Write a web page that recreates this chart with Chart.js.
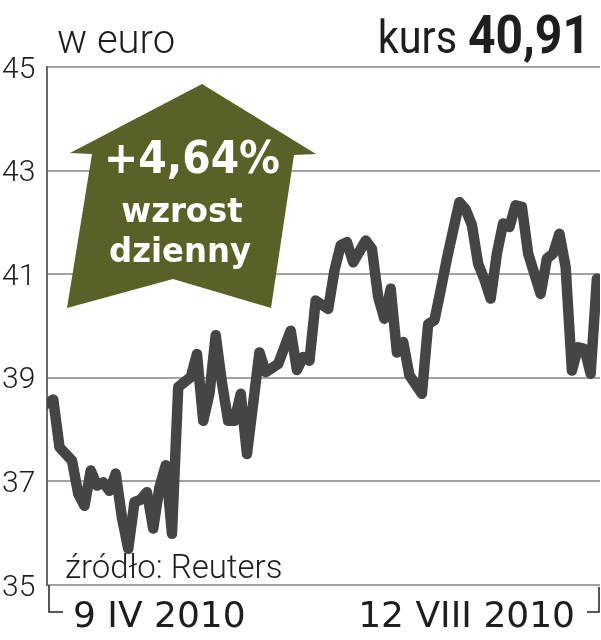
<!DOCTYPE html>
<html>
<head>
<meta charset="utf-8">
<script src="https://cdn.jsdelivr.net/npm/chart.js@4/dist/chart.umd.min.js"></script>
<style>
  html, body { margin: 0; padding: 0; background: #fff; }
  #wrap { width: 601px; height: 640px; }
</style>
</head>
<body>
<div id="wrap"><canvas id="chart-kurs" width="601" height="640"></canvas></div>
<script>
// sesje od 9 IV do 12 VIII 2010 (numer sesji) i kurs zamkniecia w euro
const sessions = [0, 1, 2, 4, 5, 6, 7, 8, 9, 10, 11, 12, 13, 14, 15, 16, 17, 18, 19, 20,
  21, 22, 23, 24, 25, 26, 27, 28, 29, 30, 31, 32, 34, 35, 37, 39, 40, 41, 42, 43,
  45, 46, 47, 48, 49, 51, 52, 53, 54, 55, 56, 57, 58, 60, 61, 62, 63, 64, 66, 67,
  68, 69, 70, 71, 72, 73, 74, 75, 76, 77, 79, 80, 81, 82, 83, 84, 85, 86, 87, 88];
const prices = [38.50, 38.58, 37.66, 37.40, 36.76, 36.53, 37.21, 36.92, 36.98, 36.82,
  37.15, 36.30, 35.70, 36.60, 36.65, 36.79, 36.09, 36.89, 37.31, 35.99,
  38.82, 38.92, 39.01, 39.46, 38.17, 38.70, 39.82, 38.90, 38.17, 38.17,
  38.69, 37.53, 39.49, 39.11, 39.27, 39.91, 39.15, 39.40, 39.33, 40.49,
  40.33, 41.07, 41.56, 41.62, 41.23, 41.65, 41.49, 40.56, 40.14, 40.72,
  39.49, 39.69, 39.05, 38.69, 40.04, 40.11, 40.69, 41.30, 42.39, 42.25,
  41.95, 41.20, 40.90, 40.53, 41.40, 41.98, 41.91, 42.33, 42.30, 41.40,
  40.62, 41.30, 41.40, 41.78, 41.14, 39.14, 39.59, 39.56, 39.08, 40.91];
const yTicks = [35, 37, 39, 41, 43, 45];
const dateLabels = ["9 IV 2010", "12 VIII 2010"];
const unitLabel = "w euro";
const lastPrice = "40,91";
const dailyChange = ["+4,64%", "wzrost", "dzienny"];
const sourceLabel = "źródło: Reuters";

const LINE_COLOR  = "#454545";
const GRID_COLOR  = "#a3a3a3";
const AXIS_COLOR  = "#6a6a6a";
const TEXT_COLOR  = "#1e1e1e";
const ARROW_COLOR = "#5a6126";

function scaledText(ctx, text, x, y, font, sx, align) {
  ctx.save();
  ctx.font = font;
  ctx.textBaseline = "alphabetic";
  ctx.textAlign = "left";
  const w = ctx.measureText(text).width * sx;
  const left = align === "right" ? x - w : align === "center" ? x - w / 2 : x;
  ctx.translate(left, y);
  ctx.scale(sx, 1);
  ctx.fillText(text, 0, 0);
  ctx.restore();
}

const decorPlugin = {
  id: "decor",
  beforeDatasetsDraw(chart) {
    const { ctx } = chart;
    // strzalka "wzrost dzienny"
    ctx.save();
    ctx.fillStyle = ARROW_COLOR;
    ctx.beginPath();
    ctx.moveTo(70, 153);
    ctx.lineTo(202, 84);
    ctx.lineTo(316, 154);
    ctx.lineTo(294, 155);
    ctx.lineTo(271, 308);
    ctx.lineTo(173, 279);
    ctx.lineTo(67, 308);
    ctx.lineTo(92, 154);
    ctx.closePath();
    ctx.fill();
    ctx.fillStyle = "#ffffff";
    ctx.textBaseline = "alphabetic";
    scaledText(ctx, dailyChange[0], 192, 173, "bold 44px 'DejaVu Sans'", 0.93, "center");
    scaledText(ctx, dailyChange[1], 182, 222, "bold 34px 'DejaVu Sans'", 0.95, "center");
    scaledText(ctx, dailyChange[2], 180, 262, "bold 34px 'DejaVu Sans'", 0.95, "center");
    ctx.restore();
  },
  afterDraw(chart) {
    const { ctx, scales: { x, y } } = chart;
    ctx.save();
    ctx.fillStyle = TEXT_COLOR;
    scaledText(ctx, unitLabel, 57, 53, "300 40px Roboto", 1.0, "left");
    scaledText(ctx, lastPrice, 590, 53, "bold 54px Roboto", 0.89, "right");
    scaledText(ctx, "kurs", 457, 53, "400 46px Roboto", 0.9, "right");
    scaledText(ctx, sourceLabel, 65, 578, "300 33px Roboto", 1.0, "left");

    // daty skrajnych sesji z nawiasami
    const x0 = x.getPixelForValue(x.min);
    const x1 = chart.chartArea.right;
    const yb = y.getPixelForValue(y.min);
    scaledText(ctx, dateLabels[0], x0 + 26, yb + 42, "500 36px 'DejaVu Sans'", 1.0, "left");
    scaledText(ctx, dateLabels[1], x1 - 25, yb + 42, "500 36px 'DejaVu Sans'", 1.0, "right");
    ctx.strokeStyle = "#222";
    ctx.lineWidth = 1.5;
    ctx.beginPath();
    ctx.moveTo(x0 + 2, yb);
    ctx.lineTo(x0 + 2, yb + 27);
    ctx.lineTo(x0 + 16, yb + 27);
    ctx.moveTo(x1 - 1, yb + 2);
    ctx.lineTo(x1 - 1, yb + 27);
    ctx.lineTo(x1 - 13, yb + 27);
    ctx.stroke();
    ctx.restore();
  },
};

new Chart(document.getElementById("chart-kurs"), {
  type: "line",
  plugins: [decorPlugin],
  data: {
    datasets: [{
      data: sessions.map((s, i) => ({ x: s, y: prices[i] })),
      borderColor: LINE_COLOR,
      borderWidth: 10.5,
      borderJoinStyle: "round",
      borderCapStyle: "round",
      pointRadius: 0,
      tension: 0,
      fill: false,
    }],
  },
  options: {
    responsive: false,
    animation: false,
    layout: { padding: { left: 2, top: 67, right: 1, bottom: 55 } },
    plugins: { legend: { display: false }, tooltip: { enabled: false } },
    scales: {
      x: { type: "linear", min: 0, max: 88.5, display: false },
      y: {
        min: 35,
        max: 45,
        afterBuildTicks: s => { s.ticks = yTicks.map(v => ({ value: v })); },
        afterFit: s => { s.width = 45; },
        ticks: {
          color: TEXT_COLOR,
          font: { family: "Roboto", size: 30, weight: 300 },
          crossAlign: "far",
          labelOffset: 3,
          padding: 0,
        },
        grid: { color: GRID_COLOR, lineWidth: 2, drawTicks: false },
        border: { display: true, color: AXIS_COLOR, width: 2 },
      },
    },
  },
});
</script>
</body>
</html>
